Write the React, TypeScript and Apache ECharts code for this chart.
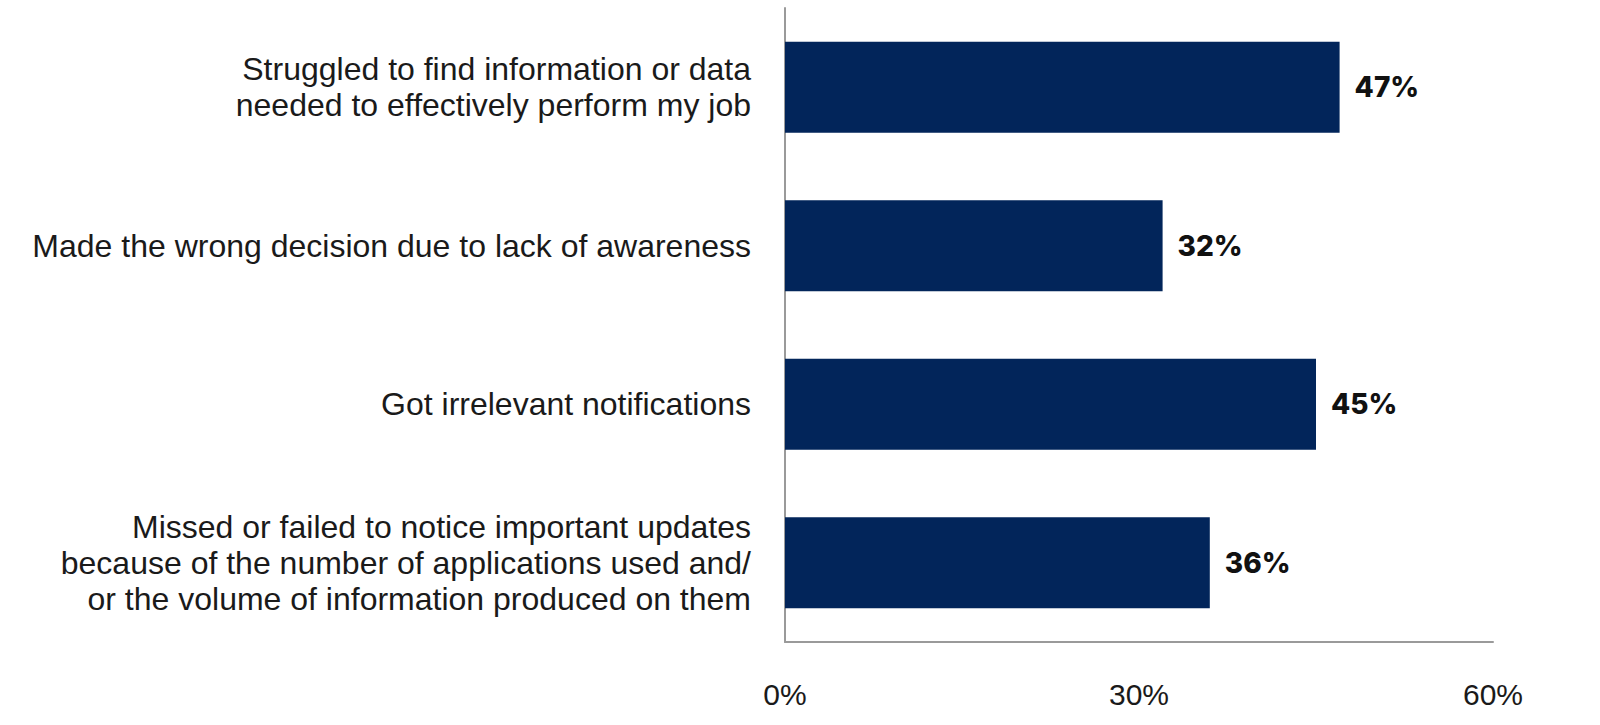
import React, { useEffect, useRef } from "react";
import * as echarts from "echarts";

const categories = [
  "Struggled to find information or data\nneeded to effectively perform my job",
  "Made the wrong decision due to lack of awareness",
  "Got irrelevant notifications",
  "Missed or failed to notice important updates\nbecause of the number of applications used and/\nor the volume of information produced on them",
];
const values = [47, 32, 45, 36];
const axisMin = 0;
const axisMax = 60;
const axisStep = 30;

export default function App() {
  const ref = useRef<HTMLDivElement>(null);
  useEffect(() => {
    if (!ref.current) return;
    const chart = echarts.init(ref.current, null, { renderer: "svg" });
    chart.setOption({
      animation: false,
      backgroundColor: "#ffffff",
      grid: { left: 785, right: 107, top: 8, bottom: 83, containLabel: false },
      xAxis: {
        type: "value",
        min: axisMin,
        max: axisMax,
        interval: axisStep,
        splitLine: { show: false },
        axisTick: { show: false },
        axisLine: { show: true, lineStyle: { color: "#9a9a9a", width: 2 } },
        axisLabel: {
          formatter: "{value}%",
          fontFamily: "Liberation Sans",
          fontSize: 30,
          color: "#1a1a1a",
          margin: 37,
        },
      },
      yAxis: {
        type: "category",
        data: categories,
        inverse: true,
        axisTick: { show: false },
        axisLine: { show: true, lineStyle: { color: "#9a9a9a", width: 2 } },
        axisLabel: {
          fontFamily: "Liberation Sans",
          fontSize: 32,
          lineHeight: 36,
          color: "#1a1a1a",
          margin: 34,
          align: "right",
        },
      },
      series: [
        {
          type: "bar",
          data: values,
          barWidth: 91,
          itemStyle: { color: "#02255a" },
          label: {
            show: true,
            position: "right",
            distance: 15,
            formatter: "{c}%",
            fontFamily: "Inter",
            fontWeight: 800,
            fontSize: 28,
            color: "#111111",
          },
        },
      ],
    });
    return () => chart.dispose();
  }, []);
  return (
    <div
      ref={ref}
      style={{ position: "fixed", left: 0, top: 0, width: 1600, height: 725 }}
    />
  );
}
